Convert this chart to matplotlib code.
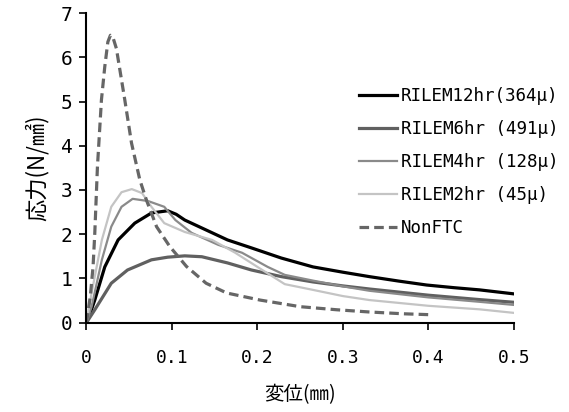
import matplotlib
matplotlib.use('Agg')
import matplotlib.pyplot as plt

plt.rcParams['font.family'] = ['DejaVu Sans Mono', 'Noto Sans CJK JP']

# displacement (mm) / stress (N/mm2)
x12 = [0, 0.005, 0.0097, 0.0214, 0.037, 0.0565, 0.076, 0.095, 0.105, 0.115, 0.135, 0.165,
       0.193, 0.228, 0.265, 0.3, 0.331, 0.365, 0.398, 0.43, 0.46, 0.5]
y12 = [0, 0.25, 0.51, 1.26, 1.87, 2.25, 2.48, 2.53, 2.45, 2.32, 2.14, 1.87,
       1.69, 1.46, 1.26, 1.14, 1.04, 0.94, 0.85, 0.79, 0.74, 0.65]

x6 = [0, 0.0097, 0.029, 0.048, 0.076, 0.095, 0.115, 0.135, 0.165, 0.193, 0.228, 0.265,
      0.3, 0.331, 0.4, 0.46, 0.5]
y6 = [0, 0.29, 0.89, 1.19, 1.42, 1.48, 1.51, 1.49, 1.35, 1.19, 1.04, 0.92,
      0.83, 0.76, 0.62, 0.52, 0.46]

x4 = [0, 0.006, 0.018, 0.029, 0.041, 0.054, 0.072, 0.091, 0.104, 0.123, 0.154, 0.182,
      0.212, 0.232, 0.265, 0.3, 0.331, 0.4, 0.46, 0.5]
y4 = [0, 0.36, 1.42, 2.17, 2.62, 2.8, 2.75, 2.62, 2.32, 2.03, 1.76, 1.58,
      1.26, 1.08, 0.95, 0.82, 0.72, 0.57, 0.47, 0.4]

x2 = [0, 0.006, 0.018, 0.029, 0.041, 0.053, 0.065, 0.076, 0.091, 0.115, 0.147, 0.174,
      0.2, 0.232, 0.265, 0.3, 0.331, 0.4, 0.46, 0.5]
y2 = [0, 0.67, 1.87, 2.62, 2.95, 3.02, 2.93, 2.62, 2.25, 2.05, 1.87, 1.58,
      1.26, 0.87, 0.74, 0.6, 0.51, 0.38, 0.3, 0.22]

xn = [0, 0.0045, 0.0077, 0.0097, 0.0128, 0.0175, 0.0214, 0.025, 0.028, 0.031, 0.035, 0.0448, 0.0527,
      0.0624, 0.070, 0.082, 0.0975, 0.117, 0.140, 0.164, 0.203, 0.25, 0.293, 0.331, 0.37, 0.4]
yn = [0, 0.6, 1.27, 2.02, 3.52, 5.04, 5.79, 6.35, 6.5, 6.45, 6.2, 5.04, 4.06,
      3.23, 2.78, 2.17, 1.72, 1.27, 0.89, 0.67, 0.51, 0.36, 0.29, 0.24, 0.2, 0.18]

labels = ['RILEM12hr(364μ)', 'RILEM6hr (491μ)', 'RILEM4hr (128μ)', 'RILEM2hr (45μ)', 'NonFTC']
xticks = [0, 0.1, 0.2, 0.3, 0.4, 0.5]
yticks = [0, 1, 2, 3, 4, 5, 6, 7]

fig = plt.figure(figsize=(5.69, 4.12), dpi=100)
ax = fig.add_axes([0.152, 0.217, 0.751, 0.751])

ax.plot(x12, y12, color='black', lw=2.3, label=labels[0])
ax.plot(x6, y6, color='#606060', lw=2.3, label=labels[1])
ax.plot(x4, y4, color='#8a8a8a', lw=1.6, label=labels[2])
ax.plot(x2, y2, color='#c4c4c4', lw=1.6, label=labels[3])
ax.plot(xn, yn, color='#666666', lw=2.3, ls=(0, (3, 1.6)), label=labels[4])

ax.set_xlim(0, 0.5)
ax.set_ylim(0, 7)
ax.set_xticks(xticks)
ax.set_xticklabels(['0' if t == 0 else '%.1f' % t for t in xticks])
ax.set_yticks(yticks)

for s in ['top', 'right']:
    ax.spines[s].set_visible(False)
for s in ['left', 'bottom']:
    ax.spines[s].set_linewidth(1.5)
ax.tick_params(axis='both', direction='out', length=5, width=1.2)
ax.tick_params(axis='x', pad=14, labelsize=13)
ax.tick_params(axis='y', pad=5, labelsize=14)

ax.set_xlabel('変位(㎜)', family=['Noto Sans CJK JP'], fontsize=14, labelpad=12)
ax.set_ylabel('応力(N/㎟)', family=['Noto Sans CJK JP'], fontsize=16, labelpad=9)

ax.legend(loc='upper left', bbox_to_anchor=(0.6, 0.812), frameon=False, fontsize=12.6,
          handlelength=2.2, handletextpad=0.2, labelspacing=0.86)

plt.savefig('out.png', dpi=100)
